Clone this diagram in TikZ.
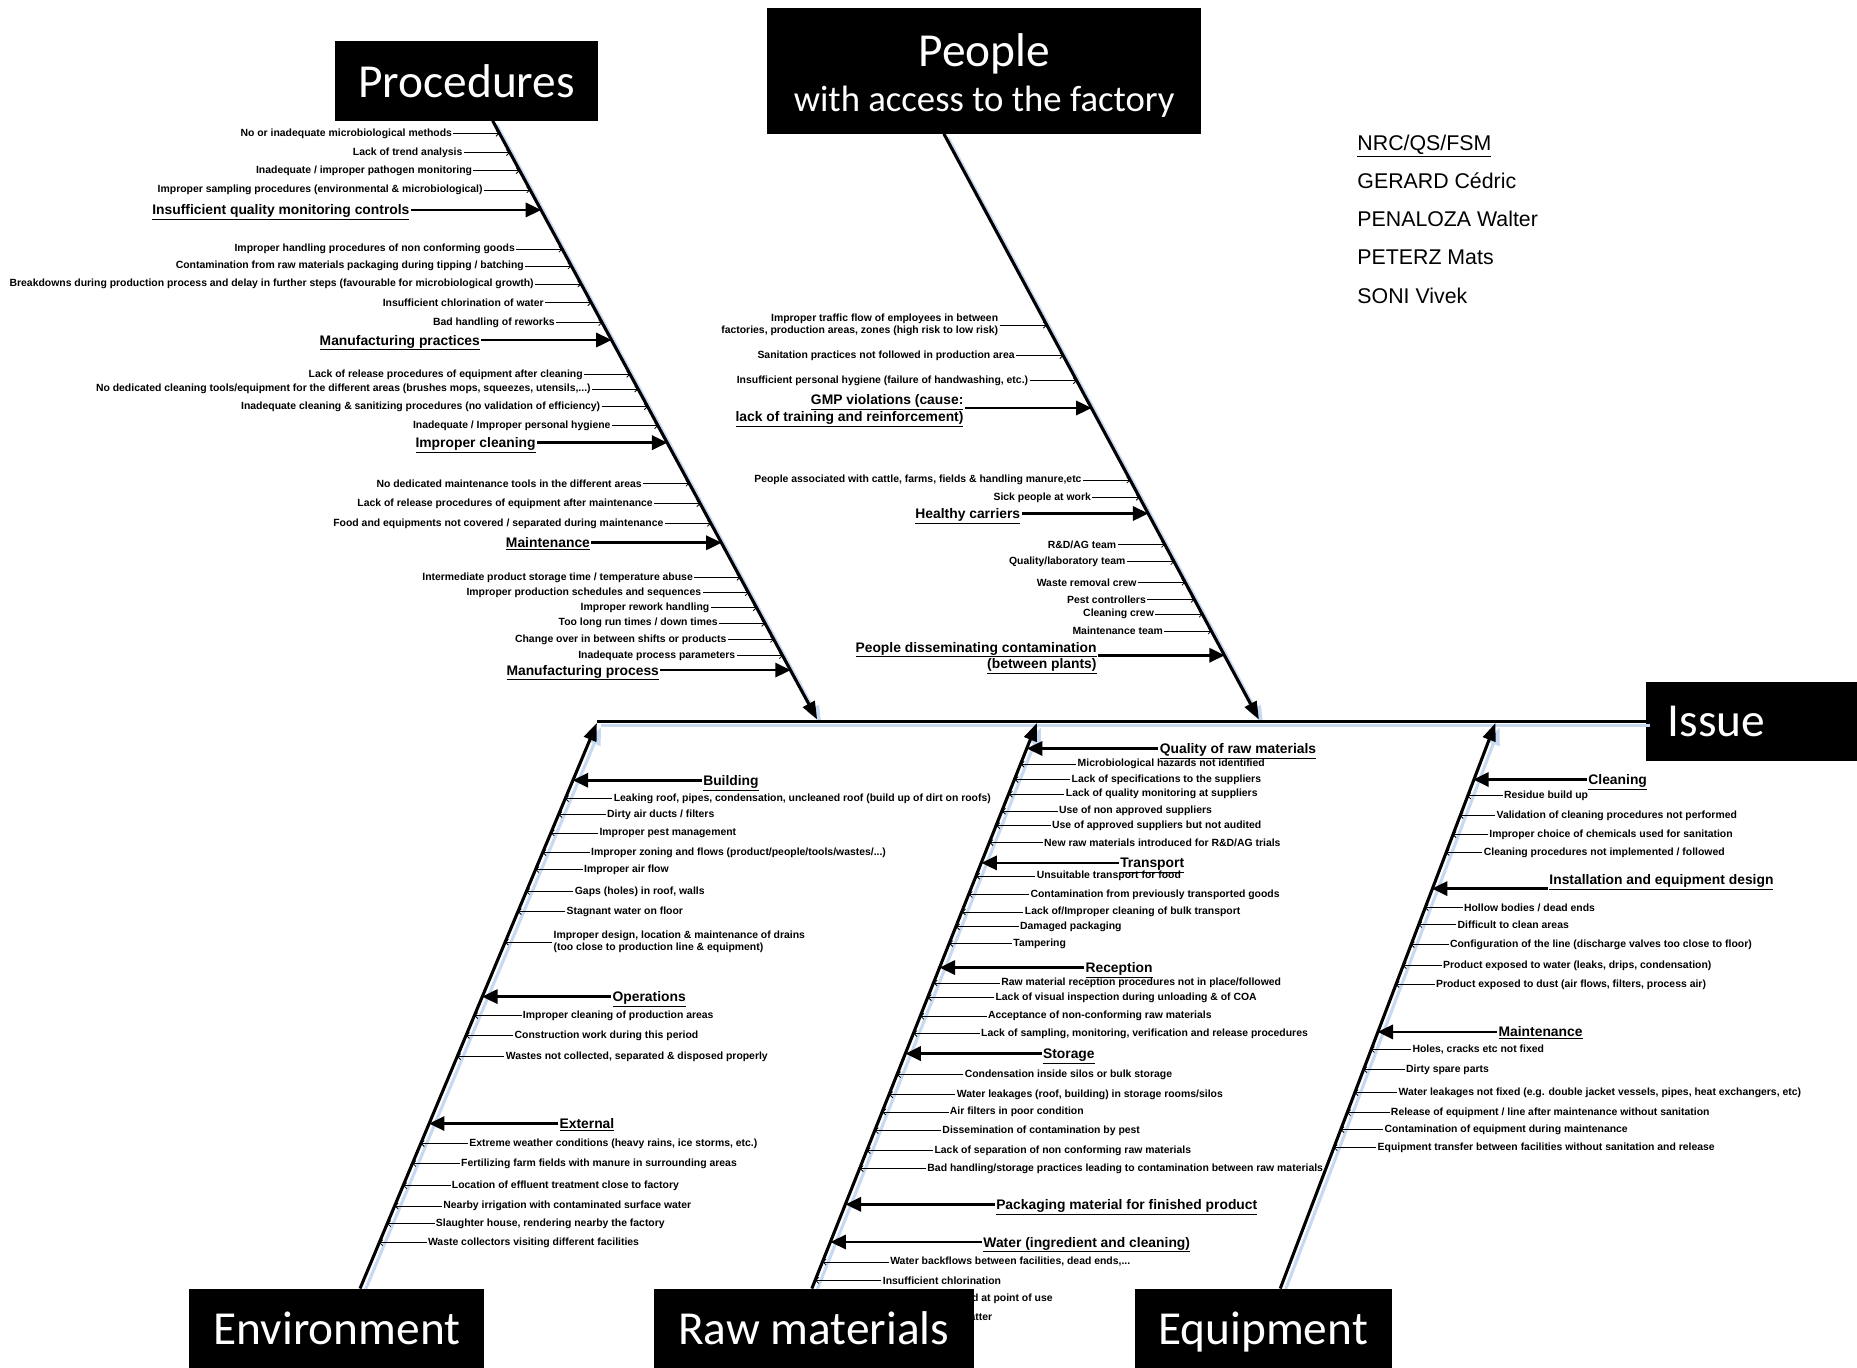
\documentclass[tikz,border=0pt]{standalone}
\usepackage{fontspec}
\setmainfont{Liberation Sans}
\newfontfamily\boxfont{Carlito}
\usetikzlibrary{arrows.meta,positioning}
\definecolor{boneshadow}{RGB}{198,217,241}

\tikzset{
  headbox/.style={fill=black, text=white, inner sep=0pt, text depth=0pt, font=\boxfont\fontsize{40}{46}\selectfont},
  headtext/.style={text=white, inner sep=0pt, anchor=base, font=\boxfont\fontsize{40}{46}\selectfont},
  bone/.style={line width=2.6pt, -{Triangle[length=15pt,width=11pt]}},
  boneshade/.style={bone, draw=boneshadow, transform canvas={shift={(3.5pt,-3.5pt)}}},
  spine/.style={line width=2.6pt},
  spineshade/.style={spine, draw=boneshadow, transform canvas={shift={(3.5pt,-3.5pt)}}},
  cause/.style={inner sep=1pt, font=\bfseries\fontsize{8.8}{10.2}\selectfont},
  maincause/.style={inner sep=1pt, text depth=0pt, font=\bfseries\fontsize{11.7}{14}\selectfont},
  sub/.style={line width=0.7pt, -{Straight Barb[length=2.5pt,width=5pt]}},
  main/.style={line width=2.2pt, -{Triangle[length=13pt,width=12pt]}},
  names/.style={anchor=west, inner sep=0pt, font=\fontsize{18}{20}\selectfont}
}

\begin{document}
\begin{tikzpicture}[x=1pt,y=-1pt]
\useasboundingbox (0,0) rectangle (1568,1155);

\coordinate (prS) at (416,102);
\coordinate (prE) at (690,607.5);
\coordinate (peS) at (797,113);
\coordinate (peE) at (1063,607.5);
\coordinate (enS) at (304,1088);
\coordinate (enE) at (504,610.5);
\coordinate (rmS) at (685.5,1088);
\coordinate (rmE) at (875.5,610.5);
\coordinate (eqS) at (1081,1088);
\coordinate (eqE) at (1262.7,610.5);
\coordinate (spL) at (504,609);

\node[headbox, anchor=west, minimum height=67pt, text width=142pt, inner xsep=18pt, align=left] (issue) at (1390,609) {Issue};

\draw[spineshade] (spL) -- (issue.west);
\draw[boneshade] (prS) -- (prE);
\draw[boneshade] (peS) -- (peE);
\draw[boneshade] (enS) -- (enE);
\draw[boneshade] (rmS) -- (rmE);
\draw[boneshade] (eqS) -- (eqE);

\draw[spine] (spL) -- (issue.west);
\draw[bone] (prS) -- (prE);
\draw[bone] (peS) -- (peE);
\draw[bone] (enS) -- (enE);
\draw[bone] (rmS) -- (rmE);
\draw[bone] (eqS) -- (eqE);

\coordinate (pr1) at (421.8,112.6);
\node[cause, left=39pt of pr1] (pr1t) {No or inadequate microbiological methods};
\draw[sub] (pr1t) -- (pr1);
\coordinate (pr2) at (430.6,128.9);
\node[cause, left=39pt of pr2] (pr2t) {Lack of trend analysis};
\draw[sub] (pr2t) -- (pr2);
\coordinate (pr3) at (438.8,144.1);
\node[cause, left=39pt of pr3] (pr3t) {Inadequate / improper pathogen monitoring};
\draw[sub] (pr3t) -- (pr3);
\coordinate (pr4) at (447.7,160.4);
\node[cause, left=39pt of pr4] (pr4t) {Improper sampling procedures (environmental \& microbiological)};
\draw[sub] (pr4t) -- (pr4);
\coordinate (prM1) at (456.9,177.3);
\node[maincause, left=110pt of prM1] (prM1t) {\underline{Insufficient quality monitoring controls}};
\draw[main] (prM1t) -- (prM1);

\coordinate (pr5) at (474.9,210.5);
\node[cause, left=39pt of pr5] (pr5t) {Improper handling procedures of non conforming goods};
\draw[sub] (pr5t) -- (pr5);
\coordinate (pr6) at (482.5,224.6);
\node[cause, left=39pt of pr6] (pr6t) {Contamination from raw materials packaging during tipping / batching};
\draw[sub] (pr6t) -- (pr6);
\coordinate (pr7) at (490.8,239.8);
\node[cause, left=39pt of pr7] (pr7t) {Breakdowns during production process and delay in further steps (favourable for microbiological growth)};
\draw[sub] (pr7t) -- (pr7);
\coordinate (pr8) at (499.3,255.6);
\node[cause, left=39pt of pr8] (pr8t) {Insufficient chlorination of water};
\draw[sub] (pr8t) -- (pr8);
\coordinate (pr9) at (508.5,272.5);
\node[cause, left=39pt of pr9] (pr9t) {Bad handling of reworks};
\draw[sub] (pr9t) -- (pr9);
\coordinate (prM2) at (516.4,287.1);
\node[maincause, left=110pt of prM2] (prM2t) {\underline{Manufacturing practices}};
\draw[main] (prM2t) -- (prM2);

\coordinate (pr10) at (532.2,316.1);
\node[cause, left=39pt of pr10] (pr10t) {Lack of release procedures of equipment after cleaning};
\draw[sub] (pr10t) -- (pr10);
\coordinate (pr11) at (538.9,328.5);
\node[cause, left=39pt of pr11] (pr11t) {No dedicated cleaning tools/equipment for the different areas (brushes mops, squeezes, utensils,...)};
\draw[sub] (pr11t) -- (pr11);
\coordinate (pr12) at (547.0,343.4);
\node[cause, left=39pt of pr12] (pr12t) {Inadequate cleaning \& sanitizing procedures (no validation of efficiency)};
\draw[sub] (pr12t) -- (pr12);
\coordinate (pr13) at (555.7,359.4);
\node[cause, left=39pt of pr13] (pr13t) {Inadequate / Improper personal hygiene};
\draw[sub] (pr13t) -- (pr13);
\coordinate (prM3) at (563.5,373.8);
\node[maincause, left=110pt of prM3] (prM3t) {\underline{Improper cleaning}};
\draw[main] (prM3t) -- (prM3);

\coordinate (pr14) at (582.1,408.1);
\node[cause, left=39pt of pr14] (pr14t) {No dedicated maintenance tools in the different areas};
\draw[sub] (pr14t) -- (pr14);
\coordinate (pr15) at (591.4,425.3);
\node[cause, left=39pt of pr15] (pr15t) {Lack of release procedures of equipment after maintenance};
\draw[sub] (pr15t) -- (pr15);
\coordinate (pr16) at (600.4,441.9);
\node[cause, left=39pt of pr16] (pr16t) {Food and equipments not covered / separated during maintenance};
\draw[sub] (pr16t) -- (pr16);
\coordinate (prM4) at (609.3,458.3);
\node[maincause, left=110pt of prM4] (prM4t) {\underline{Maintenance}};
\draw[main] (prM4t) -- (prM4);

\coordinate (pr17) at (625.2,487.5);
\node[cause, left=39pt of pr17] (pr17t) {Intermediate product storage time / temperature abuse};
\draw[sub] (pr17t) -- (pr17);
\coordinate (pr18) at (632.2,500.5);
\node[cause, left=39pt of pr18] (pr18t) {Improper production schedules and sequences};
\draw[sub] (pr18t) -- (pr18);
\coordinate (pr19) at (639.1,513.1);
\node[cause, left=39pt of pr19] (pr19t) {Improper rework handling};
\draw[sub] (pr19t) -- (pr19);
\coordinate (pr20) at (646.2,526.3);
\node[cause, left=39pt of pr20] (pr20t) {Too long run times / down times};
\draw[sub] (pr20t) -- (pr20);
\coordinate (pr21) at (653.6,539.9);
\node[cause, left=39pt of pr21] (pr21t) {Change over in between shifts or products};
\draw[sub] (pr21t) -- (pr21);
\coordinate (pr22) at (661.0,553.6);
\node[cause, left=39pt of pr22] (pr22t) {Inadequate process parameters};
\draw[sub] (pr22t) -- (pr22);
\coordinate (prM5) at (667.6,565.8);
\node[maincause, left=110pt of prM5] (prM5t) {\underline{Manufacturing process}};
\draw[main] (prM5t) -- (prM5);

\coordinate (pe1) at (884.0,274.6);
\node[cause, align=right, left=40pt of pe1] (pe1t) {Improper traffic flow of employees in between\\factories, production areas, zones (high risk to low risk)};
\draw[sub] (pe1t) -- (pe1);
\coordinate (pe2) at (897.9,300.3);
\node[cause, left=40pt of pe2] (pe2t) {Sanitation practices not followed in production area};
\draw[sub] (pe2t) -- (pe2);
\coordinate (pe3) at (909.3,321.5);
\node[cause, left=40pt of pe3] (pe3t) {Insufficient personal hygiene (failure of handwashing, etc.)};
\draw[sub] (pe3t) -- (pe3);
\coordinate (peM1) at (921.7,344.5);
\node[maincause, align=right, left=107pt of peM1] (peM1t) {\underline{GMP violations (cause:}\\\underline{lack of training and reinforcement)}};
\draw[main] (peM1t) -- (peM1);

\coordinate (pe4) at (954.4,405.4);
\node[cause, left=40pt of pe4] (pe4t) {People associated with cattle, farms, fields \& handling manure,etc};
\draw[sub] (pe4t) -- (pe4);
\coordinate (pe5) at (962.3,420.0);
\node[cause, left=40pt of pe5] (pe5t) {Sick people at work};
\draw[sub] (pe5t) -- (pe5);
\coordinate (peM2) at (969.6,433.6);
\node[maincause, left=107pt of peM2] (peM2t) {\underline{Healthy carriers}};
\draw[main] (peM2t) -- (peM2);

\coordinate (pe6) at (983.7,459.7);
\node[cause, left=40pt of pe6] (pe6t) {R\&D/AG team};
\draw[sub] (pe6t) -- (pe6);
\coordinate (pe7) at (991.5,474.3);
\node[cause, left=40pt of pe7] (pe7t) {Quality/laboratory team};
\draw[sub] (pe7t) -- (pe7);
\coordinate (pe8) at (1000.9,491.7);
\node[cause, left=40pt of pe8] (pe8t) {Waste removal crew};
\draw[sub] (pe8t) -- (pe8);
\coordinate (pe9) at (1008.7,506.1);
\node[cause, left=40pt of pe9] (pe9t) {Pest controllers};
\draw[sub] (pe9t) -- (pe9);
\coordinate (pe10) at (1015.5,518.7);
\node[cause, left=40pt of pe10] (pe10t) {Cleaning crew};
\draw[sub] (pe10t) -- (pe10);
\coordinate (pe11) at (1023.1,532.8);
\node[cause, left=40pt of pe11] (pe11t) {Maintenance team};
\draw[sub] (pe11t) -- (pe11);
\coordinate (peM3) at (1034.1,553.3);
\node[maincause, align=right, left=107pt of peM3] (peM3t) {\underline{People disseminating contamination}\\\underline{(between plants)}};
\draw[main] (peM3t) -- (peM3);

\coordinate (enM1) at (483.6,658.8);
\node[maincause, right=109pt of enM1] (enM1t) {\underline{Building}};
\draw[main] (enM1t) -- (enM1);
\coordinate (en1) at (477.1,674.3);
\node[cause, right=40pt of en1] (en1t) {Leaking roof, pipes, condensation, uncleaned roof (build up of dirt on roofs)};
\draw[sub] (en1t) -- (en1);
\coordinate (en2) at (471.5,687.8);
\node[cause, right=40pt of en2] (en2t) {Dirty air ducts / filters};
\draw[sub] (en2t) -- (en2);
\coordinate (en3) at (465.0,703.3);
\node[cause, right=40pt of en3] (en3t) {Improper pest management};
\draw[sub] (en3t) -- (en3);
\coordinate (en4) at (458.0,719.9);
\node[cause, right=40pt of en4] (en4t) {Improper zoning and flows (product/people/tools/wastes/...)};
\draw[sub] (en4t) -- (en4);
\coordinate (en5) at (452.0,734.2);
\node[cause, right=40pt of en5] (en5t) {Improper air flow};
\draw[sub] (en5t) -- (en5);
\coordinate (en6) at (444.2,752.8);
\node[cause, right=40pt of en6] (en6t) {Gaps (holes) in roof, walls};
\draw[sub] (en6t) -- (en6);
\coordinate (en7) at (437.2,769.7);
\node[cause, right=40pt of en7] (en7t) {Stagnant water on floor};
\draw[sub] (en7t) -- (en7);
\coordinate (en8) at (426.3,795.6);
\node[cause, align=left, right=40pt of en8] (en8t) {Improper design, location \& maintenance of drains\\(too close to production line \& equipment)};
\draw[sub] (en8t) -- (en8);

\coordinate (enM2) at (407.1,841.5);
\node[maincause, right=109pt of enM2] (enM2t) {\underline{Operations}};
\draw[main] (enM2t) -- (enM2);
\coordinate (en9) at (400.4,857.5);
\node[cause, right=40pt of en9] (en9t) {Improper cleaning of production areas};
\draw[sub] (en9t) -- (en9);
\coordinate (en10) at (393.4,874.4);
\node[cause, right=40pt of en10] (en10t) {Construction work during this period};
\draw[sub] (en10t) -- (en10);
\coordinate (en11) at (385.9,892.2);
\node[cause, right=40pt of en11] (en11t) {Wastes not collected, separated \& disposed properly};
\draw[sub] (en11t) -- (en11);

\coordinate (enM3) at (362.3,948.7);
\node[maincause, right=109pt of enM3] (enM3t) {\underline{External}};
\draw[main] (enM3t) -- (enM3);
\coordinate (en12) at (355.2,965.6);
\node[cause, right=40pt of en12] (en12t) {Extreme weather conditions (heavy rains, ice storms, etc.)};
\draw[sub] (en12t) -- (en12);
\coordinate (en13) at (348.2,982.5);
\node[cause, right=40pt of en13] (en13t) {Fertilizing farm fields with manure in surrounding areas};
\draw[sub] (en13t) -- (en13);
\coordinate (en14) at (340.4,1001.1);
\node[cause, right=40pt of en14] (en14t) {Location of effluent treatment close to factory};
\draw[sub] (en14t) -- (en14);
\coordinate (en15) at (333.2,1018.3);
\node[cause, right=40pt of en15] (en15t) {Nearby irrigation with contaminated surface water};
\draw[sub] (en15t) -- (en15);
\coordinate (en16) at (326.9,1033.2);
\node[cause, right=40pt of en16] (en16t) {Slaughter house, rendering nearby the factory};
\draw[sub] (en16t) -- (en16);
\coordinate (en17) at (320.2,1049.3);
\node[cause, right=40pt of en17] (en17t) {Waste collectors visiting different facilities};
\draw[sub] (en17t) -- (en17);

\coordinate (rmM1) at (867.1,632.0);
\node[maincause, right=111pt of rmM1] (rmM1t) {\underline{Quality of raw materials}};
\draw[main] (rmM1t) -- (rmM1);
\coordinate (rm1) at (861.8,645.3);
\node[cause, right=47pt of rm1] (rm1t) {Microbiological hazards not identified};
\draw[sub] (rm1t) -- (rm1);
\coordinate (rm2) at (856.7,658.2);
\node[cause, right=47pt of rm2] (rm2t) {Lack of specifications to the suppliers};
\draw[sub] (rm2t) -- (rm2);
\coordinate (rm3) at (851.8,670.6);
\node[cause, right=47pt of rm3] (rm3t) {Lack of quality monitoring at suppliers};
\draw[sub] (rm3t) -- (rm3);
\coordinate (rm4) at (846.0,685.0);
\node[cause, right=47pt of rm4] (rm4t) {Use of non approved suppliers};
\draw[sub] (rm4t) -- (rm4);
\coordinate (rm5) at (841.2,697.1);
\node[cause, right=46pt of rm5] (rm5t) {Use of approved suppliers but not audited};
\draw[sub] (rm5t) -- (rm5);
\coordinate (rm6) at (835.5,711.4);
\node[cause, right=45pt of rm6] (rm6t) {New raw materials introduced for R\&D/AG trials};
\draw[sub] (rm6t) -- (rm6);

\coordinate (rmM2) at (828.7,728.6);
\node[maincause, right=116pt of rmM2] (rmM2t) {\underline{Transport}};
\draw[main] (rmM2t) -- (rmM2);
\coordinate (rm7) at (824.2,739.9);
\node[cause, right=50pt of rm7] (rm7t) {Unsuitable transport for food};
\draw[sub] (rm7t) -- (rm7);
\coordinate (rm8) at (818.0,755.3);
\node[cause, right=51pt of rm8] (rm8t) {Contamination from previously transported goods};
\draw[sub] (rm8t) -- (rm8);
\coordinate (rm9) at (812.2,770.0);
\node[cause, right=52pt of rm9] (rm9t) {Lack of/Improper cleaning of bulk transport};
\draw[sub] (rm9t) -- (rm9);
\coordinate (rm10) at (807.2,782.6);
\node[cause, right=53pt of rm10] (rm10t) {Damaged packaging};
\draw[sub] (rm10t) -- (rm10);
\coordinate (rm11) at (801.5,796.7);
\node[cause, right=53pt of rm11] (rm11t) {Tampering};
\draw[sub] (rm11t) -- (rm11);

\coordinate (rmM3) at (793.4,817.0);
\node[maincause, right=122pt of rmM3] (rmM3t) {\underline{Reception}};
\draw[main] (rmM3t) -- (rmM3);
\coordinate (rm12) at (788.3,830.0);
\node[cause, right=56pt of rm12] (rm12t) {Raw material reception procedures not in place/followed};
\draw[sub] (rm12t) -- (rm12);
\coordinate (rm13) at (783.4,842.3);
\node[cause, right=56pt of rm13] (rm13t) {Lack of visual inspection during unloading \& of COA};
\draw[sub] (rm13t) -- (rm13);
\coordinate (rm14) at (777.1,858.1);
\node[cause, right=56pt of rm14] (rm14t) {Acceptance of non-conforming raw materials};
\draw[sub] (rm14t) -- (rm14);
\coordinate (rm15) at (771.3,872.7);
\node[cause, right=56pt of rm15] (rm15t) {Lack of sampling, monitoring, verification and release procedures};
\draw[sub] (rm15t) -- (rm15);

\coordinate (rmM4) at (764.5,889.6);
\node[maincause, right=115pt of rmM4] (rmM4t) {\underline{Storage}};
\draw[main] (rmM4t) -- (rmM4);
\coordinate (rm16) at (757.4,907.4);
\node[cause, right=56pt of rm16] (rm16t) {Condensation inside silos or bulk storage};
\draw[sub] (rm16t) -- (rm16);
\coordinate (rm17) at (750.7,924.3);
\node[cause, right=56pt of rm17] (rm17t) {Water leakages (roof, building) in storage rooms/silos};
\draw[sub] (rm17t) -- (rm17);
\coordinate (rm18) at (744.9,938.9);
\node[cause, right=56pt of rm18] (rm18t) {Air filters in poor condition};
\draw[sub] (rm18t) -- (rm18);
\coordinate (rm19) at (738.6,954.7);
\node[cause, right=56pt of rm19] (rm19t) {Dissemination of contamination by pest};
\draw[sub] (rm19t) -- (rm19);
\coordinate (rm20) at (731.9,971.5);
\node[cause, right=56pt of rm20] (rm20t) {Lack of separation of non conforming raw materials};
\draw[sub] (rm20t) -- (rm20);
\coordinate (rm21) at (725.9,986.7);
\node[cause, right=56pt of rm21] (rm21t) {Bad handling/storage practices leading to contamination between raw materials};
\draw[sub] (rm21t) -- (rm21);

\coordinate (rmM5) at (714.0,1016.9);
\node[maincause, right=126pt of rmM5] (rmM5t) {\underline{Packaging material for finished product}};
\draw[main] (rmM5t) -- (rmM5);
\coordinate (rmM6) at (701.2,1048.7);
\node[maincause, right=128pt of rmM6] (rmM6t) {\underline{Water (ingredient and cleaning)}};
\draw[main] (rmM6t) -- (rmM6);
\coordinate (rm22) at (694.5,1065.6);
\node[cause, right=56pt of rm22] (rm22t) {Water backflows between facilities, dead ends,...};
\draw[sub] (rm22t) -- (rm22);
\coordinate (rm23) at (688.3,1081.1);
\node[cause, right=56pt of rm23] (rm23t) {Insufficient chlorination};
\draw[sub] (rm23t) -- (rm23);
\node[cause, anchor=east] (rm24t) at (890,1096.5) {d at point of use};
\node[cause, anchor=east] (rm25t) at (839,1112.1) {atter};

\coordinate (eqM1) at (1244.0,658.2);
\node[maincause, right=96pt of eqM1] (eqM1t) {\underline{Cleaning}};
\draw[main] (eqM1t) -- (eqM1);
\coordinate (eq1) at (1238.8,672.0);
\node[cause, right=30pt of eq1] (eq1t) {Residue build up};
\draw[sub] (eq1t) -- (eq1);
\coordinate (eq2) at (1232.5,688.6);
\node[cause, right=30pt of eq2] (eq2t) {Validation of cleaning procedures not performed};
\draw[sub] (eq2t) -- (eq2);
\coordinate (eq3) at (1226.4,704.7);
\node[cause, right=30pt of eq3] (eq3t) {Improper choice of chemicals used for sanitation};
\draw[sub] (eq3t) -- (eq3);
\coordinate (eq4) at (1220.7,719.8);
\node[cause, right=31pt of eq4] (eq4t) {Cleaning procedures not implemented / followed};
\draw[sub] (eq4t) -- (eq4);

\coordinate (eqM2) at (1209.1,750.3);
\node[maincause, text depth=2pt, right=98pt of eqM2, anchor=south west] (eqM2t) {\underline{Installation and equipment design}};
\draw[main] (eqM2t.south west) -- (eqM2);
\coordinate (eq5) at (1203.0,766.3);
\node[cause, right=32pt of eq5] (eq5t) {Hollow bodies / dead ends};
\draw[sub] (eq5t) -- (eq5);
\coordinate (eq6) at (1197.6,780.7);
\node[cause, right=32pt of eq6] (eq6t) {Difficult to clean areas};
\draw[sub] (eq6t) -- (eq6);
\coordinate (eq7) at (1191.2,797.6);
\node[cause, right=32pt of eq7] (eq7t) {Configuration of the line (discharge valves too close to floor)};
\draw[sub] (eq7t) -- (eq7);
\coordinate (eq8) at (1184.4,815.3);
\node[cause, right=33pt of eq8] (eq8t) {Product exposed to water (leaks, drips, condensation)};
\draw[sub] (eq8t) -- (eq8);
\coordinate (eq9) at (1178.4,831.3);
\node[cause, right=33pt of eq9] (eq9t) {Product exposed to dust (air flows, filters, process air)};
\draw[sub] (eq9t) -- (eq9);

\coordinate (eqM3) at (1163.2,871.3);
\node[maincause, right=101pt of eqM3] (eqM3t) {\underline{Maintenance}};
\draw[main] (eqM3t) -- (eqM3);
\coordinate (eq10) at (1157.5,886.2);
\node[cause, right=34pt of eq10] (eq10t) {Holes, cracks etc not fixed};
\draw[sub] (eq10t) -- (eq10);
\coordinate (eq11) at (1151.1,903.1);
\node[cause, right=35pt of eq11] (eq11t) {Dirty spare parts};
\draw[sub] (eq11t) -- (eq11);
\coordinate (eq12) at (1143.7,922.6);
\node[cause, right=36pt of eq12] (eq12t) {Water leakages not fixed (e.g. double jacket vessels, pipes, heat exchangers, etc)};
\draw[sub] (eq12t) -- (eq12);
\coordinate (eq13) at (1137.3,939.5);
\node[cause, right=36pt of eq13] (eq13t) {Release of equipment / line after maintenance without sanitation};
\draw[sub] (eq13t) -- (eq13);
\coordinate (eq14) at (1131.9,953.8);
\node[cause, right=36pt of eq14] (eq14t) {Contamination of equipment during maintenance};
\draw[sub] (eq14t) -- (eq14);
\coordinate (eq15) at (1126.1,969.0);
\node[cause, right=36pt of eq15] (eq15t) {Equipment transfer between facilities without sanitation and release};
\draw[sub] (eq15t) -- (eq15);

\node[headbox, minimum width=222pt, minimum height=67pt] (procbox) at (394,68.5) {Procedures};
\node[headbox, minimum width=366pt, minimum height=106pt] (peoplebox) at (831,60) {};
\node[headtext] (peopletitle) at (831,56.5) {People};
\node[headtext, font=\boxfont\fontsize{31}{36}\selectfont] (peoplesub) at (831,94) {with access to the factory};
\node[headbox, minimum width=249pt, minimum height=67pt] (envbox) at (284.5,1121.5) {Environment};
\node[headbox, minimum width=270pt, minimum height=67pt] (rawbox) at (687,1121.5) {Raw materials};
\node[headbox, minimum width=217pt, minimum height=67pt] (equipbox) at (1066.5,1121.5) {Equipment};

\node[names] (n1) at (1146,123) {\underline{NRC/QS/FSM}};
\node[names] (n2) at (1146,152.5) {GERARD Cédric};
\node[names] (n3) at (1146,185) {PENALOZA Walter};
\node[names] (n4) at (1146,217.5) {PETERZ Mats};
\node[names] (n5) at (1146,250) {SONI Vivek};
\end{tikzpicture}
\end{document}
